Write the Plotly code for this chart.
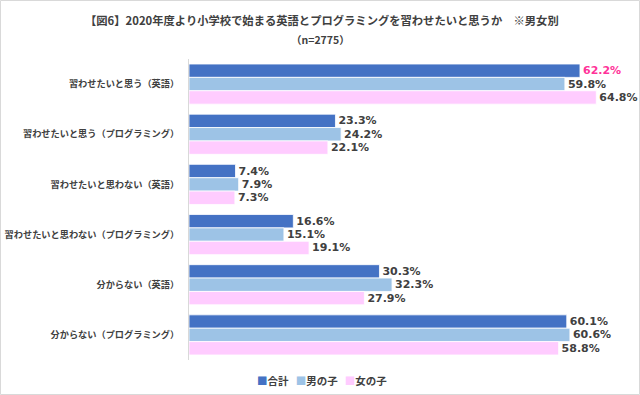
import plotly.graph_objects as go

categories = [
    "習わせたいと思う（英語）",
    "習わせたいと思う（プログラミング）",
    "習わせたいと思わない（英語）",
    "習わせたいと思わない（プログラミング）",
    "分からない（英語）",
    "分からない（プログラミング）",
]
total = [62.2, 23.3, 7.4, 16.6, 30.3, 60.1]
boys = [59.8, 24.2, 7.9, 15.1, 32.3, 60.6]
girls = [64.8, 22.1, 7.3, 19.1, 27.9, 58.8]
series_names = ["合計", "男の子", "女の子"]

title_text = "【図6】2020年度より小学校で始まる英語とプログラミングを習わせたいと思うか　※男女別"
subtitle_text = "（n=2775）"

FONT = "Noto Sans CJK JP, Noto Sans, sans-serif"
NUMFONT = "DejaVu Sans, Verdana, sans-serif"
colors = ["#4472C4", "#9DC3E6", "#FFCCFF"]
label_gray = "#404040"

fig = go.Figure()
for name, vals, col in zip(series_names, [total, boys, girls], colors):
    tcolors = [label_gray] * len(vals)
    if name == "合計":
        tcolors[0] = "#FF3399"
    fig.add_trace(go.Bar(
        y=categories, x=vals, name=name, orientation="h",
        marker=dict(color=col, line=dict(color="white", width=0.8)),
        text=[f"{v:.1f}%" for v in vals],
        textposition="outside",
        constraintext="none",
        textfont=dict(family=NUMFONT, size=11, color=tcolors, weight="bold"),
        cliponaxis=False,
        showlegend=False,
    ))

W, H = 640, 395
L, R, T, B = 189, 11, 59, 35
pw, ph = W - L - R, H - T - B

def px(x):
    return (x - L) / pw

def py(y):
    return 1 - (y - T) / ph

legend_html = "&nbsp;&nbsp;&nbsp;".join(
    f"<span style='color:{c}'>■</span>{n}" for n, c in zip(series_names, colors)
)

fig.update_layout(
    width=W, height=H,
    margin=dict(l=L, r=R, t=T, b=B, autoexpand=False),
    paper_bgcolor="white", plot_bgcolor="white",
    barmode="group", bargap=0.2, bargroupgap=0,
    font=dict(family=FONT, color=label_gray),
    showlegend=False,
    xaxis=dict(range=[0, 70], showgrid=False, showticklabels=False, zeroline=False,
               showline=False, ticks="", automargin=False),
    yaxis=dict(autorange="reversed", showgrid=False, showline=True, linecolor="#D9D9D9",
               linewidth=1, ticks="", ticklabelstandoff=7, automargin=False,
               tickfont=dict(size=9.2, family=FONT, color=label_gray, weight="bold")),
    annotations=[
        dict(text=title_text, xref="paper", yref="paper", x=px(322), y=py(20),
             xanchor="center", yanchor="middle", showarrow=False,
             font=dict(size=11.3, family=FONT, color=label_gray, weight="bold")),
        dict(text=subtitle_text, xref="paper", yref="paper", x=px(320), y=py(39),
             xanchor="center", yanchor="middle", showarrow=False,
             font=dict(size=10.5, family=FONT, color=label_gray, weight="bold")),
        dict(text=legend_html, xref="paper", yref="paper", x=px(322), y=py(380),
             xanchor="center", yanchor="middle", showarrow=False,
             font=dict(size=10.5, family=FONT, color=label_gray, weight="bold")),
    ],
    shapes=[
        dict(type="rect", xref="paper", yref="paper", x0=px(0.5), x1=px(639.5),
             y0=py(0.5), y1=py(394.5), line=dict(color="#D9D9D9", width=1),
             fillcolor="rgba(0,0,0,0)", layer="below"),
    ],
)

fig.write_html("out.html", config={"displayModeBar": False},
               post_script="document.body.style.margin='0';document.body.style.overflow='hidden';")
